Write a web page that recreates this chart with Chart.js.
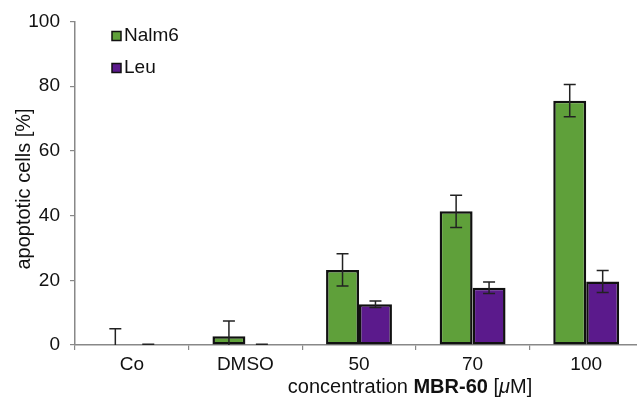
<!DOCTYPE html>
<html>
<head>
<meta charset="utf-8">
<script src="https://cdn.jsdelivr.net/npm/chart.js@4"></script>
<style>
  html, body { margin: 0; padding: 0; background: #fff; overflow: hidden; }
  #wrap { width: 650px; height: 399px; }
</style>
</head>
<body>
<div id="wrap"><canvas id="apoptosisChart"></canvas></div>
<script>
const categories = ['Co', 'DMSO', '50', '70', '100'];
const nalm6Values = [0, 2.7, 23.2, 41.3, 75.5];
const nalm6Errors = [5.0, 4.7, 5.0, 5.0, 5.0];
const leuValues = [0, 0, 12.6, 17.7, 19.6];
const leuErrors = [0.2, 0.2, 1.0, 1.8, 3.4];
const yTicks = [0, 20, 40, 60, 80, 100];

const FONT = "'Liberation Sans', Arial, sans-serif";
const errorsByDataset = [nalm6Errors, leuErrors];

// error bars on top of each bar
const errorBarPlugin = {
    id: 'errorBars',
    afterDatasetsDraw(chart) {
        const ctx = chart.ctx;
        const y = chart.scales.y;
        ctx.save();
        ctx.strokeStyle = '#222';
        ctx.lineWidth = 1.5;
        chart.data.datasets.forEach((ds, i) => {
            const meta = chart.getDatasetMeta(i);
            meta.data.forEach((bar, j) => {
                const v = ds.data[j];
                const e = errorsByDataset[i][j];
                const top = y.getPixelForValue(v + e);
                const low = v - e;
                const bottom = y.getPixelForValue(Math.max(0, low));
                const half = 6;
                ctx.beginPath();
                ctx.moveTo(bar.x, top);
                ctx.lineTo(bar.x, bottom);
                ctx.moveTo(bar.x - half, top);
                ctx.lineTo(bar.x + half, top);
                if (low >= 0) {
                    ctx.moveTo(bar.x - half, bottom);
                    ctx.lineTo(bar.x + half, bottom);
                }
                ctx.stroke();
            });
        });
        ctx.restore();
    }
};

// legend, y axis title and the mixed-font x axis title
const annotationPlugin = {
    id: 'annotations',
    afterDraw(chart) {
        const ctx = chart.ctx;
        ctx.save();
        ctx.textBaseline = 'middle';
        chart.data.datasets.forEach((ds, i) => {
            const cy = 36 + i * 32;
            ctx.fillStyle = ds.backgroundColor;
            ctx.fillRect(112, cy - 4.5, 9, 9);
            ctx.strokeStyle = '#111';
            ctx.lineWidth = 1.5;
            ctx.strokeRect(112, cy - 4.5, 9, 9);
            ctx.fillStyle = '#111';
            ctx.textAlign = 'left';
            ctx.font = '19px ' + FONT;
            ctx.fillText(ds.label, 124, cy);
        });

        ctx.save();
        ctx.translate(24, 189);
        ctx.rotate(-Math.PI / 2);
        ctx.textAlign = 'center';
        ctx.font = '20px ' + FONT;
        ctx.fillText('apoptotic cells [%]', 0, 0);
        ctx.restore();

        const parts = [
            { text: 'concentration ', font: '20px ' + FONT },
            { text: 'MBR-60', font: 'bold 20px ' + FONT },
            { text: ' [', font: '20px ' + FONT },
            { text: 'μ', font: 'italic 20px ' + FONT },
            { text: 'M]', font: '20px ' + FONT }
        ];
        let total = 0;
        parts.forEach(p => { ctx.font = p.font; p.w = ctx.measureText(p.text).width; total += p.w; });
        let x = 410 - total / 2;
        ctx.textAlign = 'left';
        parts.forEach(p => {
            ctx.font = p.font;
            ctx.fillText(p.text, x, 387);
            x += p.w;
        });
        ctx.restore();
    }
};

const ctx = document.getElementById('apoptosisChart').getContext('2d');
new Chart(ctx, {
    type: 'bar',
    data: {
        labels: categories,
        datasets: [{
            label: 'Nalm6',
            data: nalm6Values,
            backgroundColor: '#5fa03a',
            borderColor: '#111',
            borderWidth: 2.5,
            borderSkipped: false
        }, {
            label: 'Leu',
            data: leuValues,
            backgroundColor: '#5b1a8c',
            borderColor: '#111',
            borderWidth: 2.5,
            borderSkipped: false
        }]
    },
    options: {
        responsive: true,
        maintainAspectRatio: false,
        animation: false,
        layout: { padding: { top: 19, right: 7, left: 0, bottom: 0 } },
        datasets: { bar: { categoryPercentage: 0.58, barPercentage: 1.0 } },
        plugins: {
            legend: { display: false },
            tooltip: { enabled: false }
        },
        scales: {
            x: {
                afterFit: scale => { scale.height = 54; },
                grid: { drawOnChartArea: false, tickLength: 5, color: '#888', lineWidth: 1.2 },
                border: { color: '#888', width: 1.5 },
                ticks: { color: '#111', font: { family: FONT, size: 19 }, padding: 3, maxRotation: 0 }
            },
            y: {
                min: 0,
                max: 100,
                afterFit: scale => { scale.width = 75; },
                afterBuildTicks: scale => { scale.ticks = yTicks.map(v => ({ value: v })); },
                grid: { drawOnChartArea: false, tickLength: 5, color: '#888', lineWidth: 1.2 },
                border: { color: '#888', width: 1.5 },
                ticks: { color: '#111', font: { family: FONT, size: 19 }, padding: 10 }
            }
        }
    },
    plugins: [errorBarPlugin, annotationPlugin]
});
</script>
</body>
</html>
